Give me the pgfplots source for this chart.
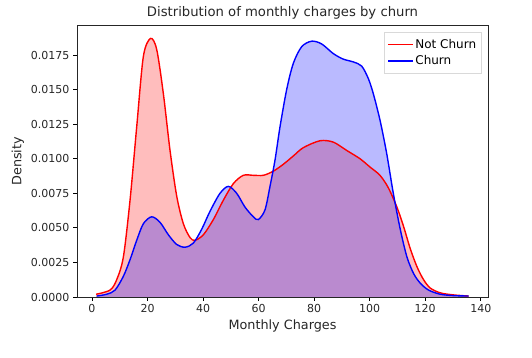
\documentclass[border=0pt]{standalone}
\usepackage{pgfplots}
\usepackage{pgfplotstable}
\pgfplotsset{compat=1.18}
\usepackage{fontspec}
\setmainfont{DejaVu Sans}
\pgfplotstableread{
x y
1.5 0.0002
6.5 0.0005
8.9 0.00125
11.3 0.0029
13.7 0.0070
16.1 0.0123
18.5 0.0174
21.1 0.0187
23.3 0.0179
25.7 0.0147
28.1 0.0106
30.5 0.0073
32.9 0.0053
35.3 0.0043
37.1 0.0041
40.1 0.0045
43.7 0.0056
47.3 0.0070
50.9 0.0082
54.5 0.0088
58.1 0.0088
61.7 0.0088
65.3 0.0091
68.9 0.0096
72.5 0.0102
76.1 0.0108
82.1 0.0113
86.9 0.0112
91.7 0.0106
96.5 0.0100
100.1 0.0094
103.7 0.0088
106.7 0.0079
109.8 0.0065
112.2 0.0051
114.6 0.0035
117.0 0.0022
119.4 0.00125
121.8 0.00065
125.4 0.0003
130.2 0.00015
135.6 0.00007
}\notchurn
\pgfplotstableread{
x y
1.7 0.00007
5.3 0.0002
8.3 0.0005
11.3 0.0015
13.7 0.0027
16.1 0.0041
18.5 0.0053
21.5 0.0058
24.5 0.0054
27.5 0.0045
30.5 0.0038
33.5 0.0036
36.5 0.0039
39.5 0.0049
42.5 0.0062
46.1 0.0075
49.1 0.0080
52.1 0.0075
55.1 0.0065
58.1 0.0058
59.9 0.0056
62.3 0.0063
64.1 0.0080
65.9 0.0099
67.7 0.0123
70.1 0.0150
72.5 0.0169
75.5 0.0181
79.1 0.0185
82.7 0.0183
86.9 0.0176
90.5 0.0172
94.1 0.0170
97.1 0.0167
99.5 0.0158
101.3 0.0147
103.7 0.0128
106.1 0.0104
108.5 0.0075
111.0 0.0049
113.4 0.0029
115.8 0.0017
118.2 0.0010
121.2 0.0005
125.4 0.0002
130.2 0.0001
135.6 0.00007
}\churn
\begin{document}
\begin{tikzpicture}
\path[use as bounding box] (-77pt,-61pt) rectangle (455pt,297pt);
\begin{axis}[
  at={(0,0)}, anchor=south west,
  scale only axis, width=411pt, height=271.3pt,
  xmin=-5.4, xmax=142.6, ymin=0, ymax=0.01962,
  xtick={0,20,...,140},
  ytick={0,0.0025,0.005,0.0075,0.01,0.0125,0.015,0.0175},
  scaled y ticks=false,
  yticklabel style={/pgf/number format/.cd, fixed, fixed zerofill, precision=4},
  /pgf/number format/assume math mode=true,
  tick align=outside, tick pos=left,
  major tick length=4pt,
  tick style={black, line width=0.8pt},
  axis line style={line width=0.9pt, black!85},
  ticklabel style={font=\fontsize{11}{13}\selectfont, text=black!85},
  xlabel={Monthly Charges}, ylabel={Density},
  label style={font=\fontsize{12.8}{14}\selectfont, text=black!85},
  title={Distribution of monthly charges by churn},
  title style={font=\fontsize{13.2}{15}\selectfont, text=black!85, yshift=-3pt},
  legend style={at={(0.985,0.975)}, anchor=north east, draw=black!15,
    font=\fontsize{12}{14}\selectfont, inner sep=3.5pt,
    nodes={inner ysep=3pt}},
  legend cell align=left,
  legend image code/.code={\draw[#1] plot coordinates {(0cm,0cm) (0.85cm,0cm)};},
]
\addplot[draw=none, fill=red, fill opacity=0.26, smooth, tension=0.5, forget plot] table[x=x,y=y] {\notchurn} \closedcycle;
\addplot[draw=none, fill=blue, fill opacity=0.27, smooth, tension=0.5, forget plot] table[x=x,y=y] {\churn} \closedcycle;
\addplot[red, line width=1.4pt, smooth, tension=0.5] table[x=x,y=y] {\notchurn};
\addlegendentry{Not Churn}
\addplot[blue, line width=1.4pt, smooth, tension=0.5] table[x=x,y=y] {\churn};
\addlegendentry{Churn}
\end{axis}
\end{tikzpicture}
\end{document}
